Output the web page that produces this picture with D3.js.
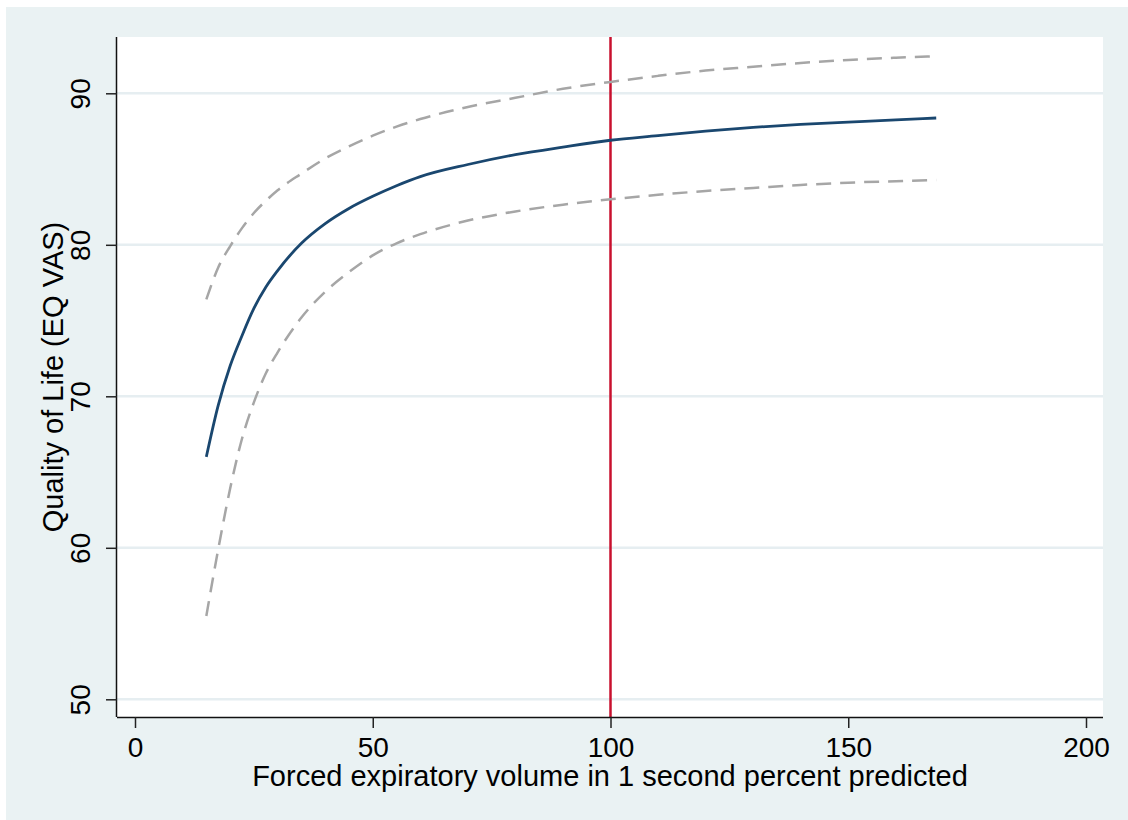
<!DOCTYPE html>
<html>
<head>
<meta charset="utf-8">
<script src="https://cdn.jsdelivr.net/npm/d3@7"></script>
<style>
  html, body { margin: 0; padding: 0; background: #ffffff; }
  svg { display: block; }
  text { font-family: "Liberation Sans", Arial, sans-serif; fill: #000; }
</style>
</head>
<body>
<svg id="chart" width="1128" height="820"></svg>
<script>
// ---- data ----
const fev = [15, 17.5, 20, 22.5, 25, 27.5, 30, 35, 40, 45, 50, 55, 60, 70, 80, 90, 100, 110, 120, 130, 140, 150, 160, 168.5];
const qolFit = [66.0, 69.4, 72.0, 74.0, 75.8, 77.2, 78.3, 80.1, 81.4, 82.4, 83.2, 83.9, 84.5, 85.3, 85.95, 86.45, 86.9, 87.2, 87.5, 87.75, 87.95, 88.1, 88.25, 88.37];
const qolUpper = [76.4, 78.5, 79.9, 81.1, 82.1, 82.9, 83.6, 84.7, 85.7, 86.5, 87.2, 87.8, 88.3, 89.1, 89.7, 90.3, 90.75, 91.15, 91.5, 91.75, 92.0, 92.2, 92.35, 92.45];
const qolLower = [55.5, 59.9, 63.9, 67.2, 69.6, 71.5, 72.9, 75.2, 76.9, 78.2, 79.3, 80.1, 80.7, 81.6, 82.2, 82.65, 83.0, 83.3, 83.55, 83.75, 83.95, 84.1, 84.2, 84.28];
const xTicks = [0, 50, 100, 150, 200];
const yTicks = [50, 60, 70, 80, 90];
const refLineX = [100];
const xTitle = "Forced expiratory volume in 1 second percent predicted";
const yTitle = "Quality of Life (EQ VAS)";

// ---- layout ----
const W = 1128, H = 820;
const plot = { left: 117, right: 1103, top: 37, bottom: 717 };
const svg = d3.select("#chart");

const x = d3.scaleLinear().domain([0, 200]).range([135, 1086]);
const y = d3.scaleLinear().domain([50, 90]).range([699.3, 93.3]);

// outer background
svg.append("rect").attr("x", 0).attr("y", 0).attr("width", W).attr("height", H).attr("fill", "#ffffff");
svg.append("rect").attr("x", 6).attr("y", 7).attr("width", W - 6).attr("height", H - 7).attr("fill", "#eaf2f3");
// plot region
svg.append("rect").attr("x", plot.left).attr("y", plot.top)
  .attr("width", plot.right - plot.left).attr("height", plot.bottom - plot.top).attr("fill", "#ffffff");

// gridlines
svg.append("g").selectAll("line").data(yTicks).join("line")
  .attr("x1", plot.left).attr("x2", plot.right)
  .attr("y1", d => y(d)).attr("y2", d => y(d))
  .attr("stroke", "#e6eef1").attr("stroke-width", 2.5);

// reference line
svg.append("g").selectAll("line").data(refLineX).join("line")
  .attr("x1", d => x(d)).attr("x2", d => x(d))
  .attr("y1", plot.top).attr("y2", plot.bottom)
  .attr("stroke", "#c8102e").attr("stroke-width", 2.5);

const pts = arr => fev.map((v, i) => [v, arr[i]]);
const line = d3.line().x(d => x(d[0])).y(d => y(d[1])).curve(d3.curveMonotoneX);

// confidence bands (dashed)
[qolUpper, qolLower].forEach(arr => {
  svg.append("path").datum(pts(arr))
    .attr("d", line).attr("fill", "none")
    .attr("stroke", "#a6a6a6").attr("stroke-width", 2.5)
    .attr("stroke-dasharray", "15,9");
});
// fitted line
svg.append("path").datum(pts(qolFit))
  .attr("d", line).attr("fill", "none")
  .attr("stroke", "#1a476f").attr("stroke-width", 2.8);

// axes
const xAxis = svg.append("g").attr("transform", `translate(0,${plot.bottom})`)
  .call(d3.axisBottom(x).tickValues(xTicks).tickSize(11).tickSizeOuter(0).tickFormat(d3.format("d")));
xAxis.select(".domain").attr("d", `M${plot.left},0.5H${plot.right}`).attr("stroke", "#111").attr("stroke-width", 1.5);
xAxis.selectAll(".tick line").attr("stroke", "#222").attr("stroke-width", 1.5);
xAxis.selectAll(".tick text").attr("y", 40).attr("dy", 0)
  .style("font-size", "28px").style("font-family", "'Liberation Sans', Arial, sans-serif").attr("fill", "#000");

const yAxis = svg.append("g").attr("transform", `translate(${plot.left},0)`)
  .call(d3.axisLeft(y).tickValues(yTicks).tickSize(11).tickSizeOuter(0).tickFormat(d3.format("d")));
yAxis.select(".domain").attr("d", `M-0.5,${plot.top}V${plot.bottom}`).attr("stroke", "#111").attr("stroke-width", 1.5);
yAxis.selectAll(".tick line").attr("stroke", "#222").attr("stroke-width", 1.5);
yAxis.selectAll(".tick text").attr("x", 0).attr("dy", 0)
  .attr("text-anchor", "middle")
  .attr("transform", "translate(-27,0) rotate(-90)")
  .style("font-size", "28px").style("font-family", "'Liberation Sans', Arial, sans-serif").attr("fill", "#000");

// axis titles
svg.append("text").attr("x", (plot.left + plot.right) / 2).attr("y", 786)
  .attr("text-anchor", "middle").style("font-size", "29px").text(xTitle);
svg.append("text")
  .attr("transform", `translate(63,${(plot.top + plot.bottom) / 2}) rotate(-90)`)
  .attr("text-anchor", "middle").style("font-size", "29px").text(yTitle);
</script>
</body>
</html>
